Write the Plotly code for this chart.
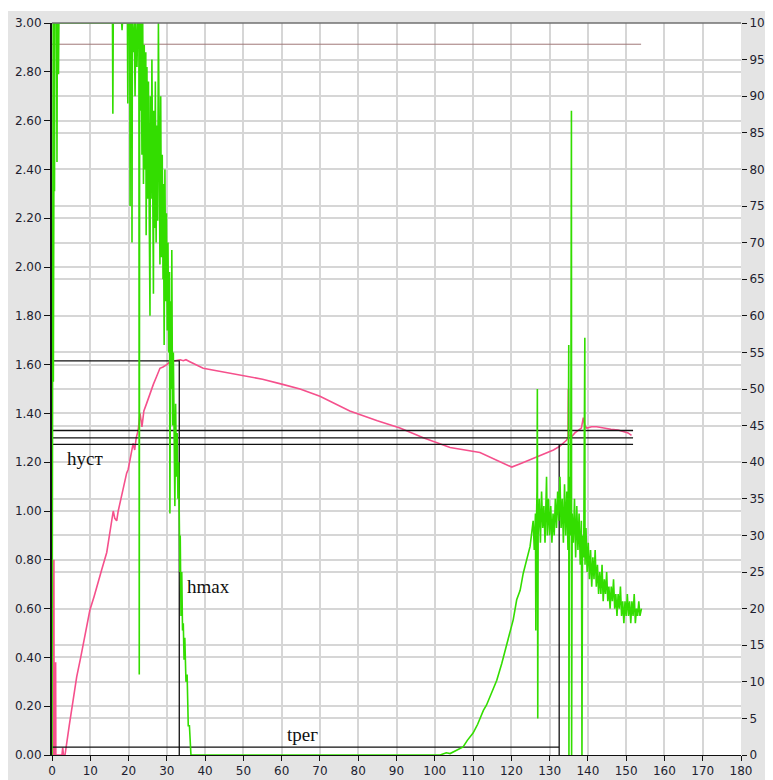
import plotly.graph_objects as go

# ---------------- data ----------------
# pink series "h" (left axis, 0..3)
h_t = [0.3, 0.45, 0.5, 0.55, 0.9, 0.95, 1.0, 2.6, 2.8, 3.0, 3.4,
       4.5, 5.5, 6.45, 7.5, 8.5, 9.9, 11.0, 12.0, 13.0, 14.3, 15.0, 16.0, 16.4, 16.9,
       17.3, 18.0, 19.0, 19.5, 19.9, 20.6, 21.2, 21.6, 22.0, 22.5, 23.0, 23.5, 24.0,
       24.7, 25.5, 26.5, 27.3, 28.2, 29.0, 30.0, 30.8, 31.8, 32.6, 33.5, 34.3, 35.0,
       36.0, 37.5, 39.5, 43.0, 46.5, 50.9, 55.0, 60.0, 64.8, 70.0, 77.8, 85.0, 90.9,
       97.0, 104.0, 111.8, 116.0, 120.1, 122.5, 124.9, 127.0, 129.2, 131.0, 132.7,
       134.4, 134.8, 134.9, 135.0, 135.8, 136.6, 137.5, 138.3, 138.8, 139.2, 139.7,
       141.0, 142.3, 144.0, 146.0, 147.9, 149.2, 150.5, 151.4]
h_v = [0.0, 0.80, 0.80, 0.0, 0.0, 0.38, 0.0, 0.0, 0.03, 0.0, 0.0,
       0.12, 0.22, 0.32, 0.40, 0.48, 0.594, 0.65, 0.70, 0.76, 0.83, 0.90, 1.00, 0.97, 0.96,
       1.00, 1.05, 1.12, 1.155, 1.17, 1.22, 1.277, 1.25, 1.30, 1.33, 1.40, 1.345, 1.41,
       1.44, 1.48, 1.52, 1.55, 1.585, 1.59, 1.60, 1.612, 1.615, 1.62, 1.62, 1.616, 1.62,
       1.612, 1.60, 1.585, 1.575, 1.564, 1.55, 1.54, 1.52, 1.50, 1.47, 1.41, 1.37, 1.34,
       1.30, 1.26, 1.24, 1.21, 1.18, 1.195, 1.21, 1.225, 1.236, 1.25, 1.266,
       1.29, 1.30, 1.50, 1.31, 1.305, 1.32, 1.33, 1.34, 1.383, 1.35, 1.34,
       1.345, 1.345, 1.34, 1.335, 1.332, 1.325, 1.32, 1.31]

# green series (right axis, 0..100)
g_t = [0.0, 0.15, 0.3, 0.35, 0.45, 0.6, 0.65, 0.75, 1.2, 1.3, 1.4, 1.6, 1.7, 1.8,
       15.8, 15.9, 16.0, 18.2, 18.3, 18.4, 19.7, 19.8, 19.9, 20.3, 20.4, 20.5, 20.8,
       20.9, 21.0, 21.3, 21.5, 21.7, 21.9, 22.2, 22.4, 22.7, 22.8, 22.9, 23.1, 23.3,
       23.5, 23.7, 23.9, 24.1, 24.3, 24.5, 24.6, 24.8, 25.0, 25.2, 25.4, 25.6, 25.7,
       25.9, 26.1, 26.3, 26.5, 26.6, 26.8, 27.0, 27.2, 27.4, 27.6, 27.8, 28.0, 28.2,
       28.4, 28.6, 28.8, 29.0, 29.1, 29.3, 29.5, 29.7, 29.9, 30.1, 30.3, 30.5, 30.7,
       30.8, 31.0, 31.2, 31.3, 31.5, 31.7, 31.9, 32.1, 32.3, 32.5, 32.7, 32.9, 33.1,
       33.2, 33.4, 33.5, 33.7, 33.9, 34.1, 34.3, 34.5, 34.7, 35.0, 35.3, 35.6, 35.9,
       36.3, 101.4, 103.0, 104.0, 105.5, 107.4, 108.5, 110.0, 111.2, 112.7, 113.5,
       114.4, 115.3, 116.2, 117.5, 118.5, 119.6, 120.5, 121.4, 122.3, 123.1, 124.0,
       124.9, 125.7, 126.0, 126.3, 126.4, 126.5, 126.7, 126.8, 126.9, 127.0, 127.3,
       127.6, 127.9, 128.2, 128.5, 128.8, 129.2, 129.4, 129.7, 130.0, 130.3, 130.6,
       130.9, 131.2, 131.5, 131.8, 132.1, 132.4, 132.7, 133.0, 133.3, 133.6, 133.9,
       134.2, 134.5, 134.8, 135.0, 135.05, 135.2, 135.5, 135.7, 135.75, 135.9, 136.2,
       136.5, 136.8, 137.1, 137.4, 137.7, 138.0, 138.3, 138.4, 138.45, 138.6, 138.9,
       139.2, 139.25, 139.5, 139.8, 140.1, 140.4, 140.7, 141.0, 141.3, 141.6, 141.9,
       142.2, 142.5, 142.8, 143.1, 143.4, 143.7, 144.0, 144.3, 144.6, 144.9, 145.2,
       145.5, 145.8, 146.1, 146.4, 146.7, 147.0, 147.3, 147.6, 147.9, 148.2, 148.5,
       148.8, 149.1, 149.4, 149.7, 150.0, 150.3, 150.6, 150.9, 151.2, 151.5, 151.8,
       152.1, 152.4, 152.7, 153.0, 153.3, 153.6, 154.0]
g_v = [0, 100, 100, 51, 100, 100, 77, 100, 100, 81, 100, 100, 93, 100,
       100, 87.6, 100, 100, 99, 100, 100, 89, 100, 100, 75, 100, 100,
       70, 100, 96, 100, 90, 100, 94, 100, 100, 11, 100, 88, 100,
       82, 100, 78, 97, 80, 96, 71, 94, 76, 92, 74, 60, 90,
       76, 95, 74, 63, 88, 72, 92, 70, 86, 73, 100, 79, 67,
       90, 68, 82, 65, 78, 56, 80, 62, 74, 58, 70, 55, 66,
       33, 62, 50, 69, 45, 55, 40, 34, 48, 38, 44, 35, 40,
       33, 25, 30, 19, 25, 17, 18, 13, 16, 10, 11, 4, 4,
       0, 0, 0.3, 0.2, 0.6, 1.1, 2.0, 3.0, 4.2, 6.1, 6.8,
       8.0, 9.0, 10.2, 12.5, 14.5, 16.6, 18.5, 21.2, 22.5, 24.8, 26.5,
       28.5, 32, 28, 33, 17, 30, 36, 50, 5, 30, 35,
       29, 36, 31, 34, 29, 38, 30, 35, 30, 34, 29,
       33, 30, 35, 31, 36, 32, 38, 31, 35, 29, 37,
       30, 36, 28, 56, 0, 38, 30, 88, 0, 33, 29,
       35, 27, 34, 28, 33, 26, 32, 15, 0, 30, 27,
       57, 26, 31, 25, 29, 24, 28, 23, 27, 24, 28,
       23, 26, 22, 25, 22, 26, 21, 24, 22, 25, 21,
       23, 20, 23, 21, 24, 20, 22, 19, 22, 20, 23,
       19, 21, 18, 21, 19, 22, 19, 21, 18, 21, 19,
       22, 18, 20, 19, 21, 19, 20]

# reference lines
upper_level = 2.913
upper_end = 153.9
h_max = 1.615
t_hmax = 33.25
h_ust_levels = [1.33, 1.30, 1.273]
h_ust_end = 151.8
t_reg = 132.5
t_reg_level = 0.032

x_ticks = list(range(0, 181, 10))
labels = ["hуст", "hmax", "tрег"]
label_x = [3.4, 34.7, 61.0]
label_y = [1.217, 0.689, 0.082]

# ---------------- figure ----------------
fig = go.Figure()

fig.add_trace(go.Scatter(x=g_t, y=g_v, mode="lines", yaxis="y2",
                         line=dict(color="#33dd00", width=1.6), hoverinfo="skip"))
fig.add_trace(go.Scatter(x=h_t, y=h_v, mode="lines",
                         line=dict(color="#f5508c", width=1.6), hoverinfo="skip"))
fig.add_trace(go.Scatter(x=[0, upper_end], y=[upper_level, upper_level], mode="lines",
                         line=dict(color="#a07878", width=1), hoverinfo="skip"))

blk = dict(color="#111111", width=1.3)
fig.add_trace(go.Scatter(x=[0, t_hmax, t_hmax], y=[h_max, h_max, 0], mode="lines",
                         line=blk, hoverinfo="skip"))
for lv in h_ust_levels:
    fig.add_trace(go.Scatter(x=[0, h_ust_end], y=[lv, lv], mode="lines",
                             line=blk, hoverinfo="skip"))
fig.add_trace(go.Scatter(x=[0, t_reg, t_reg, t_reg], y=[t_reg_level, t_reg_level, 0, min(h_ust_levels)],
                         mode="lines", line=blk, hoverinfo="skip"))

for txt, lx, ly in zip(labels, label_x, label_y):
    fig.add_annotation(x=lx, y=ly, xref="x", yref="y", text=txt, showarrow=False,
                       xanchor="left", yanchor="middle",
                       font=dict(family="Liberation Serif", size=19, color="#111111"))

grid = "#d6d6d6"
tickfont = dict(family="DejaVu Sans", size=12, color="#1e1e30")
fig.update_layout(
    width=765, height=772,
    margin=dict(l=44, r=32, t=15, b=25, autoexpand=False),
    paper_bgcolor="#e4e4e4", plot_bgcolor="white",
    showlegend=False,
    xaxis=dict(range=[0, 180], tickvals=x_ticks, showgrid=True, gridcolor=grid, gridwidth=1.5,
               ticks="outside", ticklen=5, tickcolor="#111", showline=True, linecolor="#111",
               linewidth=1, zeroline=False, tickfont=tickfont, automargin=False),
    yaxis=dict(range=[0, 3], dtick=0.2, tick0=0, tickformat=".2f", showgrid=True, gridcolor=grid,
               gridwidth=1.5, ticks="outside", ticklen=6, tickcolor="#111", showline=True,
               linecolor="#111", linewidth=2, zeroline=False, tickfont=tickfont, automargin=False),
    yaxis2=dict(range=[0, 100], dtick=5, tick0=0, overlaying="y", side="right", showgrid=True,
                gridcolor=grid, gridwidth=1.5, ticks="outside", ticklen=5, tickcolor="#111",
                showline=False, zeroline=False, tickfont=tickfont, automargin=False),
    shapes=[
        dict(type="line", xref="paper", yref="paper", x0=0, x1=1, y0=1, y1=1,
             line=dict(color="#707070", width=1.5), layer="above"),
        dict(type="rect", xref="paper", yref="paper", x0=-0.1, x1=1.1, y0=1.0164, y1=1.05,
             fillcolor="white", line=dict(width=0), layer="above"),
    ],
)

fig.write_html("out.html")
